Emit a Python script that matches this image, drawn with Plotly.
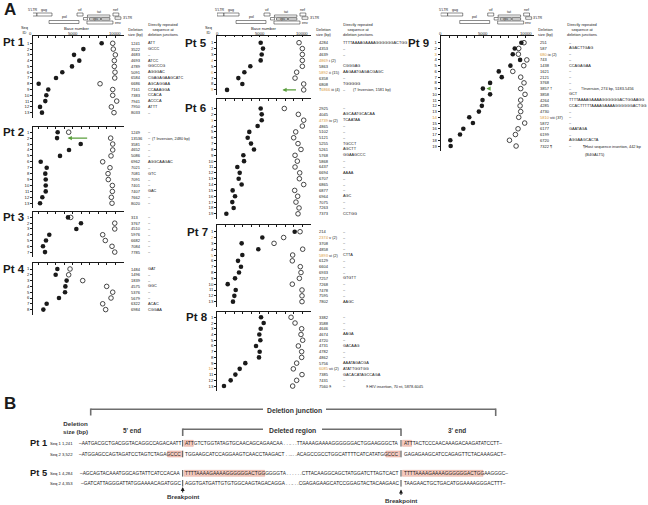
import plotly.graph_objects as go

W, H = 648, 505
FONT = "Liberation Sans, Arial, sans-serif"
INK = "#1a1a1a"
ORANGE = "#d99a3a"
GREEN = "#5a9e3c"
PINK = "rgba(238,160,140,0.55)"
GREY = "#6e6e6e"

# ---------------- panel A: deletion start (filled) / end (open) in base number ----------------
pt1_start = [8430, 6280, 5180, 5800, 4940, 3800, 3060, 1020, 2150, 1920, 1800, 1180, 1410]
pt1_end = [9730, 9800, 10040, 9920, 9920, 10000, 9970, 8240, 9730, 9730, 10200, 9570, 9880]
pt1_size = ["1241", "3522", "4683", "4693", "4789", "5091", "6584", "6686", "7161", "7383", "7941", "7950", "8033"]
pt1_repeat = ["ATT", "GCCC", "–", "ATCC", "GGCCCG", "AGGGAC", "CGAGAGAAGCATC", "AGCAGGAA",
              "CCAAAGGA", "CCACA", "ACCCA", "ATTT", "–"]

pt2_start = [3255, 3180, 5965, 4590, 3530, 1260, 1965, 1800, 1850, 1850, 1850, 1450, 1180]
pt2_end = [4550, 9490, 9730, 9730, 9530, 8550, 9410, 9180, 9210, 9690, 9690, 9570, 9650]
pt2_size = ["1249", "13536", "3581", "4652", "5086", "6962", "7021", "7081", "7091", "7401", "7407", "7662", "8020"]
pt2_repeat = ["–", "–", "–", "–", "–", "AGGCAAGAC", "–", "GTC", "–", "–", "GAC", "–", "–"]

pt3_start = [4470, 6000, 5450, 2270, 1880, 1530, 1765]
pt3_end = [4790, 9970, 9970, 8550, 8860, 9650, 9970]
pt3_size = ["313", "3767", "4510", "5976", "6682", "7084", "7785"]
pt3_repeat = ["–", "–", "–", "–", "–", "–", "–"]

pt4_start = [3220, 3020, 4310, 4160, 4120, 3410, 1960, 1570]
pt4_end = [4710, 4550, 6200, 9020, 9730, 9530, 8550, 8900]
pt4_size = ["1484", "1496", "1839", "4575", "5376", "5679", "6322", "6984"]
pt4_repeat = ["GAT", "–", "–", "GGC", "–", "–", "ACAC", "CGGAA"]

pt5_start = [5140, 5410, 5260, 5140, 3920, 3220, 2510, 2980, 1180]
pt5_end = [9650, 10040, 10040, 10040, 10040, 9370, 9180, 10200, 10200]
pt5_size = ["4284", "4353", "4639", "4869", "5863", "5892", "6358", "6808", "†6866"]
pt5_tag = ["", "", "", "i (2)", "", "ii (15)", "", "", "iii (4)"]
pt5_repeat = ["TTTTAAAAGAAAAGGGGGGACTGG", "–", "–", "", "CGGGAG", "AAGAATGAGACGAGC", "–", "TGGGGG", "–"]

pt6_start = [5140, 5260, 5260, 4780, 3800, 3610, 4000, 4350, 3100, 3180, 2390, 2670, 2550, 2900,
             1840, 2120, 1800, 1960, 1100]
pt6_end = [7920, 9570, 10200, 10040, 9260, 9020, 9530, 9880, 9180, 9450, 9180, 9730, 9690, 10200,
           9140, 9490, 9290, 9650, 9530]
pt6_size = ["2925", "4045", "4739", "4865", "5102", "5121", "5255", "5261", "5768", "5868", "6437",
            "6694", "6707", "6865", "6877", "6964", "7075", "7263", "7373"]
pt6_tag = ["", "", "iv (2)", "", "", "", "", "", "", "", "", "", "", "", "", "", "", "", ""]
pt6_repeat = ["–", "AGCAATGCACAA", "TCAATAA", "–", "–", "–", "TGCCT", "AGCTT", "GGAAGCCC", "–", "–",
              "AAAA", "–", "–", "–", "AGC", "–", "–", "CCTGG"]

pt7_start = [9140, 5330, 2900, 4860, 2980, 2470, 2820, 2590, 2120, 1260, 2200, 2040, 1880]
pt7_end = [9770, 7840, 6710, 10080, 8900, 8860, 9800, 9880, 9690, 8860, 10000, 10000, 10000]
pt7_size = ["214", "2374", "3708", "4858", "5893", "6129", "6604", "6933", "7257", "7268", "7478", "7595", "7802"]
pt7_tag = ["", "v (2)", "", "", "vi (2)", "", "", "", "", "", "", "", ""]
pt7_repeat = ["–", "–", "–", "–", "CTTA", "–", "–", "–", "GTGTT", "–", "–", "–", "AAGC"]

pt8_start = [5180, 5490, 5140, 4980, 5100, 4590, 5020, 4940, 3330, 2670, 2160, 1610, 820]
pt8_end = [8710, 9180, 9960, 9880, 10080, 9570, 9960, 9960, 9370, 8980, 10000, 9370, 8900]
pt8_size = ["3382", "3588", "4646", "4674", "4720", "4731", "4782", "4862", "5756", "6085", "7385", "7431", "7560 §"]
pt8_tag = ["", "", "", "", "", "", "", "", "", "vii (2)", "", "", ""]
pt8_repeat = ["–", "–", "–", "AAGA", "–", "GACAAG", "–", "–", "AAATAGACGA", "ATATTGGTGG",
              "GACACATAGCCAGA", "–", "–"]

pt9_start = [9490, 8710, 8480, 9340, 8200, 6830, 7180, 5810, 4960, 5810, 4920, 4840, 4490, 3360,
             3790, 2660, 2270, 1130, 1170]
pt9_end = [9800, 9180, 9140, 10130, 9770, 8480, 9410, 9800, 9410, 9920, 9410, 9340, 9410, 9180,
           9880, 9100, 8790, 8090, 8870]
pt9_size = ["251", "587", "680", "743", "1438", "1621", "2121", "3768", "3857 †", "3858", "4264",
            "4285", "4730", "5810", "5872", "6177", "6199", "6720", "7322 ¶"]
pt9_tag = ["", "", "ix (2)", "", "", "", "", "", "", "", "", "", "", "viii (37)", "", "", "", "", ""]
pt9_repeat = ["–", "AGACTTGAG", "–", "–", "CCAGAGAA", "–", "–", "–", "–", "GCT",
              "TTTTAAAAGAAAAGGGGGGACTGGAAGG", "CCACTTTTTAAAAGAAAAGGGGGGACTGG", "–", "–", "–",
              "GAATAGA", "–", "AGGAAGCACTA", "–"]

axis_labels = [0, 5000, 10000]

# ---------------- panel B: sequences around the two breakpoints ----------------
b_patient = ["Pt 1", "", "Pt 5", ""]
b_seq = ["Seq 1", "Seq 2", "Seq 1", "Seq 2"]
b_size = ["1,241", "3,522", "4,284", "4,353"]
b_end5 = ["–AATGACGCTGACGGTACAGGCCAGACAATT", "–ATGGAGCCAGTAGATCCTAGTCTAGAGCCC",
          "–AGCAGTACAAATGGCAGTATTCATCCACAA", "–GATCATTAGGGATTATGGAAAACAGATGGC"]
b_del_head = ["ATTGTCTGGTATAGTGCAACAGCAGAACAA", "TGGAAGCATCCAGGAAGTCAACCTAAGACT",
              "TTTTAAAAGAAAAGGGGGGACTGGGGGGTA", "AGGTGATGATTGTGTGGCAAGTAGACAGGA"]
b_del_tail = ["TTAAAAGAAAAGGGGGGACTGGAAGGGCTA", "ACAGCCGCCTGGCATTTTCATCATATGGCCC",
              "CTTACAAGGCAGCTATGGATCTTAGTCACT", "CGAGAGAAGCATCCGGAGTACTACAAGAAC"]
b_end3 = ["ATTTACTCCCAACAAAGACAAGATATCCTT–", "GAGAGAAGCATCCAGAGTTCTACAAAGACT–",
          "TTTTAAAAGAAAAGGGGGGACTGGAAGGGC–", "TAAGAACTGCTGACATGGAAAAGGGACTTT–"]
b_repeat_len = [3, 4, 24, 0]
b_repeat_side = ["after", "before", "after", ""]


def fx(x):
    return x / W


def fy(y):
    return 1 - y / H


PX_PER_BP = 0.0085
XMAX = 11000
TAB_FS = 4.0
REP_FS = 3.85
HEAD_FS = 3.9

# x0: pixel of base 0, ax: pixel of the vertical axis line
panels = [
    dict(pt="Pt 1", d=(pt1_start, pt1_end, pt1_size, None, pt1_repeat), x0=30, ax=33, top=36, row1=43.3,
         step=5.78, size_x=130, rep_x=146.7, lab=(2, 42.5), head=True),
    dict(pt="Pt 2", d=(pt2_start, pt2_end, pt2_size, None, pt2_repeat), x0=30, ax=33, top=127.3, row1=132.2,
         step=5.92, size_x=130, rep_x=146.7, lab=(2, 131.5), head=False),
    dict(pt="Pt 3", d=(pt3_start, pt3_end, pt3_size, None, pt3_repeat), x0=30, ax=33, top=212.3, row1=217.4,
         step=5.78, size_x=130, rep_x=146.7, lab=(2, 217), head=False),
    dict(pt="Pt 4", d=(pt4_start, pt4_end, pt4_size, None, pt4_repeat), x0=30, ax=33, top=263.3, row1=269,
         step=5.8, size_x=130, rep_x=146.7, lab=(2, 269), head=False),
    dict(pt="Pt 5", d=(pt5_start, pt5_end, pt5_size, pt5_tag, pt5_repeat), x0=217, ax=217, top=35.5, row1=42.7,
         step=5.9, size_x=317.7, rep_x=342.3, lab=(184, 43), head=True),
    dict(pt="Pt 6", d=(pt6_start, pt6_end, pt6_size, pt6_tag, pt6_repeat), x0=217, ax=217, top=99, row1=108.5,
         step=5.85, size_x=317.7, rep_x=342.3, lab=(184, 108), head=False),
    dict(pt="Pt 7", d=(pt7_start, pt7_end, pt7_size, pt7_tag, pt7_repeat), x0=217, ax=217, top=225, row1=231.7,
         step=5.83, size_x=317.7, rep_x=342.3, lab=(186, 232), head=False),
    dict(pt="Pt 8", d=(pt8_start, pt8_end, pt8_size, pt8_tag, pt8_repeat), x0=217, ax=217, top=311.7, row1=317.3,
         step=5.73, size_x=317.7, rep_x=342.3, lab=(185, 317), head=False),
    dict(pt="Pt 9", d=(pt9_start, pt9_end, pt9_size, pt9_tag, pt9_repeat), x0=440.7, ax=440.7, top=36,
         row1=42.7, step=5.74, size_x=539, rep_x=567.7, lab=(407, 43), head=True),
]

# side notes and green arrows (patient, row, x px / base, text)
notes = [
    ("Pt 2", 2, 150.7, "(† Inversion, 2480 bp)"),
    ("Pt 5", 9, 352, "(† Inversion, 1581 bp)"),
    ("Pt 8", 13, 365, "§ HIV insertion, 70 nt, 5878-6045"),
    ("Pt 9", 9, 580, "†Inversion, 274 bp, 5183-5456"),
    ("Pt 9", 19, 581.5, "¶Host sequence insertion, 442 bp"),
    ("Pt 9", 20.4, 583.5, "(B4GALT5)"),
]
green_arrows = [("Pt 2", 2, 4430, 21), ("Pt 5", 9, 7700, 15), ("Pt 9", 9, 5380, 4)]

# schematic HIV genome map drawn above each column: name, start, end, y0, y1 (px), label placement
genome_boxes = [
    ("5'LTR", 0, 820, 13, 16, "above"), ("gag", 820, 2590, 13, 16, "above"),
    ("pol", 2240, 5760, 20.5, 23.5, "above"), ("vif", 5530, 6240, 13, 16, "above"),
    ("vpr", 6290, 6760, 17.5, 20, "none"), ("tat", 6760, 9400, 15, 17.2, "above"),
    ("vpu", 7000, 8300, 18, 20, "inside"), ("rev", 8400, 9400, 18, 20, "none"),
    ("env", 6700, 9760, 21, 24, "right"), ("nef", 9760, 10450, 13, 16, "above"),
    ("3'LTR", 10000, 10700, 16.8, 19.3, "right"),
]

fig = go.Figure()
ann = []
shapes = []
axes = {}
pidx = {}


def txt(x, y, s, size=TAB_FS, xanchor="left", yref="paper", color=INK, bold=False, yanchor="middle", xref="paper"):
    if bold:
        s = f"<b>{s}</b>"
    ann.append(dict(x=x, y=y, xref=xref, yref=yref, text=s, showarrow=False, xanchor=xanchor, yanchor=yanchor,
                    borderpad=0, font=dict(size=size, color=color, family=FONT)))


for i, p in enumerate(panels, start=1):
    start, end, size, tag, rep = p["d"]
    n = len(start)
    rows = list(range(1, n + 1))
    xa = "x" if i == 1 else f"x{i}"
    ya = "y" if i == 1 else f"y{i}"
    pidx[p["pt"]] = (i, xa, ya, p)
    tags = tag if tag else [""] * n

    fig.add_trace(go.Scatter(x=end, y=rows, xaxis=xa, yaxis=ya, mode="markers", cliponaxis=False,
                             marker=dict(symbol="circle-open", size=4.6, color=INK, line=dict(width=0.8)),
                             hoverinfo="skip", showlegend=False))
    fig.add_trace(go.Scatter(x=start, y=rows, xaxis=xa, yaxis=ya, mode="markers", cliponaxis=False,
                             marker=dict(symbol="circle", size=4.6, color=INK),
                             hoverinfo="skip", showlegend=False))

    bottom = p["row1"] + (n - 1) * p["step"] + 5

    def yv(px, p=p):
        return 1 + (px - p["row1"]) / p["step"]

    r0 = (p["ax"] - p["x0"]) / PX_PER_BP
    ticktext = [f"<span style='color:{ORANGE}'>{k}</span>" if tags[k - 1] else str(k) for k in rows]
    xkey = "xaxis" if i == 1 else f"xaxis{i}"
    ykey = "yaxis" if i == 1 else f"yaxis{i}"
    axes[xkey] = dict(domain=[fx(p["ax"]), fx(p["x0"] + XMAX * PX_PER_BP)], range=[r0, XMAX], anchor=ya,
                      side="top", showline=True, linecolor=INK, linewidth=0.8, ticks="inside", ticklen=2,
                      tickwidth=0.6, tickcolor=INK, tickvals=list(range(1000, XMAX + 1, 1000)),
                      showticklabels=False, showgrid=False, zeroline=False, fixedrange=True, automargin=False)
    axes[ykey] = dict(domain=[fy(bottom), fy(p["top"])], range=[yv(bottom), yv(p["top"])], anchor=xa,
                      showline=True, linecolor=INK, linewidth=0.8, ticks="outside", ticklen=2, tickwidth=0.6,
                      tickcolor=INK, tickvals=rows, ticktext=ticktext, tickfont=dict(size=4.2, color=INK),
                      showgrid=False, zeroline=False, fixedrange=True, automargin=False)

    # patient label
    txt(fx(p["lab"][0]), fy(p["lab"][1]), p["pt"], size=11.5, bold=True)

    # deletion size and repeated sequence columns
    for k in rows:
        s = size[k - 1]
        num = s.lstrip("†")
        pre = s[:len(s) - len(num)]
        if tags[k - 1]:
            s = f"{pre}<span style='color:{ORANGE}'>{num}</span> {tags[k - 1]}"
        txt(fx(p["size_x"]), k, s, yref=ya)
        if rep[k - 1]:
            txt(fx(p["rep_x"]), k, rep[k - 1], yref=ya, size=REP_FS)

    # column headers
    if p["head"]:
        for v in axis_labels:
            txt(fx(p["x0"] + v * PX_PER_BP), fy(33), str(v), size=4.2, xanchor="center")
        if p["pt"] != "Pt 9":
            txt(fx(p["ax"] - 9), fy(29.5), "Seq<br>ID", size=HEAD_FS, xanchor="center")
            txt(fx(p["x0"] + 47), fy(28.6), "Base number", size=HEAD_FS + 0.3, xanchor="center")
            txt(fx(p["size_x"] - 3), fy(31.5), "Deletion<br>size (bp)", size=HEAD_FS)
            txt(fx(p["rep_x"]), fy(29), "Directly repeated<br>sequence at<br>deletion junctions", size=HEAD_FS)
        else:
            txt(fx(p["size_x"] - 2), fy(31.5), "Deletion<br>size (bp)", size=HEAD_FS)
            txt(fx(582), fy(29), "Directly repeated<br>sequence at<br>deletion junctions", size=HEAD_FS,
                xanchor="center")
        for name, g0, g1, y0, y1, where in genome_boxes:
            shapes.append(dict(type="rect", xref=xa, yref="paper", x0=g0, x1=g1, y0=fy(y1), y1=fy(y0),
                               line=dict(color=INK, width=0.5), fillcolor="white"))
            xm = fx(p["x0"] + (g0 + g1) / 2 * PX_PER_BP)
            if where == "above":
                txt(xm, fy(y0 - 0.4), name, size=3.6, xanchor="center", yanchor="bottom")
            elif where == "inside":
                txt(xm, fy((y0 + y1) / 2), name, size=3.0, xanchor="center")
            elif where == "right":
                txt(fx(p["x0"] + g1 * PX_PER_BP + 0.8), fy((y0 + y1) / 2), name, size=3.6)

for pt, row, xpx, s in notes:
    i, xa, ya, p = pidx[pt]
    txt(fx(xpx), fy(p["row1"] + (row - 1) * p["step"]), s, size=3.9)

for pt, row, xb, tail in green_arrows:
    i, xa, ya, p = pidx[pt]
    ann.append(dict(x=xb, y=row, xref=xa, yref=ya, text="", showarrow=True, ax=tail, ay=0, arrowhead=2,
                    arrowsize=0.6, arrowwidth=1.4, arrowcolor=GREEN))

# panel letters
txt(fx(3), fy(9), "A", size=17, bold=True)
txt(fx(3), fy(403), "B", size=17, bold=True)

# ---------------- panel B ----------------
SEQ_FS = 4.8
CHW = {"A": 0.667, "C": 0.722, "G": 0.778, "T": 0.611, ".": 0.278, " ": 0.278, "–": 0.556}


def tw(s):
    return sum(CHW.get(c, 0.6) for c in s) * SEQ_FS


BP1, BP2 = 182.7, 401.0
line_grey = dict(color=GREY, width=1.6)


def seg(x0, y0, x1, y1, line=line_grey):
    shapes.append(dict(type="line", xref="paper", yref="paper", x0=fx(x0), y0=fy(y0), x1=fx(x1), y1=fy(y1),
                       line=line))


# deletion junction bracket
seg(90.7, 409.3, 263, 409.3)
seg(326, 409.3, 495.7, 409.3)
seg(90.7, 408.5, 90.7, 415.5)
seg(495.7, 408.5, 495.7, 416)
txt(fx(294.5), fy(410.5), "Deletion junction", size=6.8, xanchor="center", bold=True, color="#333")
# deleted region bracket
seg(BP1, 429.3, 263, 429.3)
seg(322, 429.3, BP2, 429.3)
seg(BP1, 428.5, BP1, 436)
seg(BP2, 428.5, BP2, 436)
txt(fx(292), fy(430.5), "Deleted region", size=6.8, xanchor="center", bold=True, color="#333")
txt(fx(132), fy(430.5), "5' end", size=6.4, xanchor="center", bold=True, color="#333")
txt(fx(457), fy(430.5), "3' end", size=6.4, xanchor="center", bold=True, color="#333")
txt(fx(75), fy(427), "Deletion<br>size (bp)", size=6.2, xanchor="center", bold=True, color="#333")

b_y = [443.3, 454, 473.3, 483.3]
for r in range(4):
    y = b_y[r]
    if b_patient[r]:
        txt(fx(29), fy(y), b_patient[r], size=9.3, bold=True)
    txt(fx(49), fy(y), b_seq[r], size=4.2)
    txt(fx(61), fy(y), b_size[r], size=4.2)
    left, head, tail, right = b_end5[r], b_del_head[r], b_del_tail[r], b_end3[r]
    mid_r = ". . ." + tail
    n = b_repeat_len[r]
    if b_repeat_side[r] == "after":
        boxes = [(BP1 + 1.5, BP1 + 1.5 + tw(head[:n])), (BP2 + 1.5, BP2 + 1.5 + tw(right[:n]))]
    elif b_repeat_side[r] == "before":
        boxes = [(BP1 - 1 - tw(left[-n:]), BP1 - 1), (BP2 - 1 - tw(tail[-n:]), BP2 - 1)]
    else:
        boxes = []
    for a, b in boxes:
        shapes.append(dict(type="rect", xref="paper", yref="paper", x0=fx(a), x1=fx(b), y0=fy(y + 3), y1=fy(y - 3),
                           fillcolor=PINK, line=dict(color="rgba(210,110,90,0.6)", width=0.5), layer="below"))
    txt(fx(BP1 - 1), fy(y), left, size=SEQ_FS, xanchor="right")
    txt(fx(BP1 + 1.5), fy(y), head + " . . .", size=SEQ_FS)
    txt(fx(BP2 - 1), fy(y), mid_r, size=SEQ_FS, xanchor="right")
    txt(fx(BP2 + 1.5), fy(y), right, size=SEQ_FS)
    for xb in (BP1, BP2):
        seg(xb, y - 3.3, xb, y + 3.3, line=dict(color=INK, width=0.8))

for xb, yh, yt in ((BP1, 487, 496.7), (BP2, 489.5, 500.8)):
    ann.append(dict(x=fx(xb), y=fy(yh), xref="paper", yref="paper", text="", showarrow=True, ax=0, ay=7,
                    arrowhead=2, arrowsize=0.8, arrowwidth=1, arrowcolor=INK))
    txt(fx(xb), fy(yt), "Breakpoint", size=6.2, xanchor="center", bold=True, color="#333")

fig.update_layout(width=W, height=H, margin=dict(l=0, r=0, t=0, b=0), autosize=False,
                  paper_bgcolor="white", plot_bgcolor="white", showlegend=False,
                  font=dict(family=FONT, color=INK, size=5), annotations=ann, shapes=shapes, **axes)

# the page body has a default 8px margin; drop it so the figure sits at the window corner
fig.write_html("out.html", config={"displayModeBar": False},
               post_script="document.body.style.margin = '0';")
